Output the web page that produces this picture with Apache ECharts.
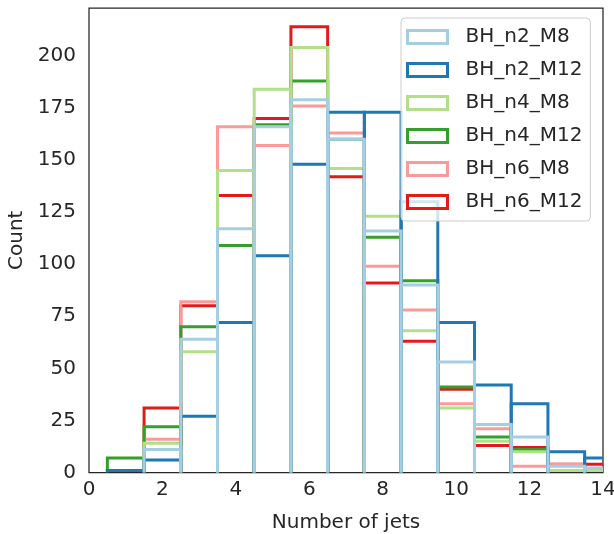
<!DOCTYPE html>
<html>
<head>
<meta charset="utf-8">
<title>Number of jets</title>
<script src="https://cdn.jsdelivr.net/npm/echarts@6/dist/echarts.min.js"></script>
<style>
  html, body { margin: 0; padding: 0; background: #ffffff; }
  #chart { width: 614px; height: 534px; }
</style>
</head>
<body>
<div id="chart"></div>
<script>
// Jet multiplicity: one count per integer bin (bin centred on the jet count).
const jetBins = [1, 2, 3, 4, 5, 6, 7, 8, 9, 10, 11, 12, 13, 14];

const BH_n2_M8  = [0, 11, 64, 117, 166, 179, 160, 116, 90, 53, 23, 17, 3, 2];
const BH_n2_M12 = [1, 6, 27, 72, 104, 148, 173, 173, 130, 72, 42, 33, 10, 7];
const BH_n4_M8  = [0, 14, 58, 145, 184, 204, 146, 123, 68, 31, 15, 10, 1, 1];
const BH_n4_M12 = [7, 22, 70, 109, 167, 188, 160, 113, 92, 41, 17, 11, 1, 1];
const BH_n6_M8  = [0, 16, 82, 166, 157, 176, 163, 99, 78, 33, 21, 3, 4, 2];
const BH_n6_M12 = [0, 31, 80, 133, 170, 214, 142, 91, 63, 40, 13, 12, 4, 4];

const seriesNames = ['BH_n2_M8', 'BH_n2_M12', 'BH_n4_M8', 'BH_n4_M12', 'BH_n6_M8', 'BH_n6_M12'];
const seriesValues = [BH_n2_M8, BH_n2_M12, BH_n4_M8, BH_n4_M12, BH_n6_M8, BH_n6_M12];
const palette = ['#a6cee3', '#1f78b4', '#b2df8a', '#33a02c', '#fb9a99', '#e31a1c'];

const FONT = 'DejaVu Sans';
const INK = '#262626';

// Each bin is an open bar outline (left side, top, right side) from 0 to its count.
function makeRenderer(color) {
  return function (params, api) {
    const x = api.value(0);
    const y = api.value(1);
    if (!y) return null;
    const pts = [
      api.coord([x - 0.5, 0]),
      api.coord([x - 0.5, y]),
      api.coord([x + 0.5, y]),
      api.coord([x + 0.5, 0])
    ];
    return {
      type: 'polyline',
      shape: { points: pts },
      style: { fill: null, stroke: color, lineWidth: 3, lineJoin: 'miter', lineCap: 'butt' }
    };
  };
}

// Later series are painted on top; the first legend entry ends up uppermost.
const series = [];
for (let i = seriesNames.length - 1; i >= 0; i--) {
  series.push({
    name: seriesNames[i],
    type: 'custom',
    clip: true,
    color: palette[i],
    itemStyle: { color: palette[i] },
    renderItem: makeRenderer(palette[i]),
    encode: { x: 0, y: 1 },
    data: jetBins.map((b, k) => [b, seriesValues[i][k]]),
    animation: false
  });
}

const chart = echarts.init(document.getElementById('chart'), null, { renderer: 'canvas' });
chart.setOption({
  animation: false,
  backgroundColor: '#ffffff',
  textStyle: { fontFamily: FONT, color: INK },
  grid: {
    left: 89, right: 11, top: 8, bottom: 61.5,
    containLabel: false, outerBoundsMode: 'none',
    show: true, borderColor: INK, borderWidth: 1.25, backgroundColor: 'transparent'
  },
  xAxis: {
    type: 'value', min: 0, max: 14, interval: 2,
    name: 'Number of jets', nameLocation: 'middle', nameGap: 40,
    nameTextStyle: { fontFamily: FONT, fontSize: 20, color: INK },
    axisLine: { show: false }, axisTick: { show: false }, splitLine: { show: false },
    axisLabel: { fontFamily: FONT, fontSize: 20, color: INK, margin: 7 }
  },
  yAxis: {
    type: 'value', min: 0, max: 223, interval: 25,
    name: 'Count', nameLocation: 'middle', nameGap: 49,
    nameTextStyle: { fontFamily: FONT, fontSize: 20, color: INK },
    axisLine: { show: false }, axisTick: { show: false }, splitLine: { show: false },
    axisLabel: { fontFamily: FONT, fontSize: 20, color: INK, margin: 13, showMaxLabel: false }
  },
  legend: {
    orient: 'vertical', left: 401, top: 18,
    padding: [9, 8, 9, 5],
    itemWidth: 40, itemHeight: 13, itemGap: 13,
    backgroundColor: 'rgba(255,255,255,0.8)',
    borderColor: '#cccccc', borderWidth: 1, borderRadius: 4,
    selectedMode: false,
    textStyle: { fontFamily: FONT, fontSize: 20, color: INK, lineHeight: 20, padding: [0, 0, 0, 13] },
    data: seriesNames.map((n, i) => ({
      name: n, icon: 'rect',
      itemStyle: { color: 'rgba(255,255,255,0)', borderColor: palette[i], borderWidth: 3 }
    }))
  },
  series: series
});
</script>
</body>
</html>
